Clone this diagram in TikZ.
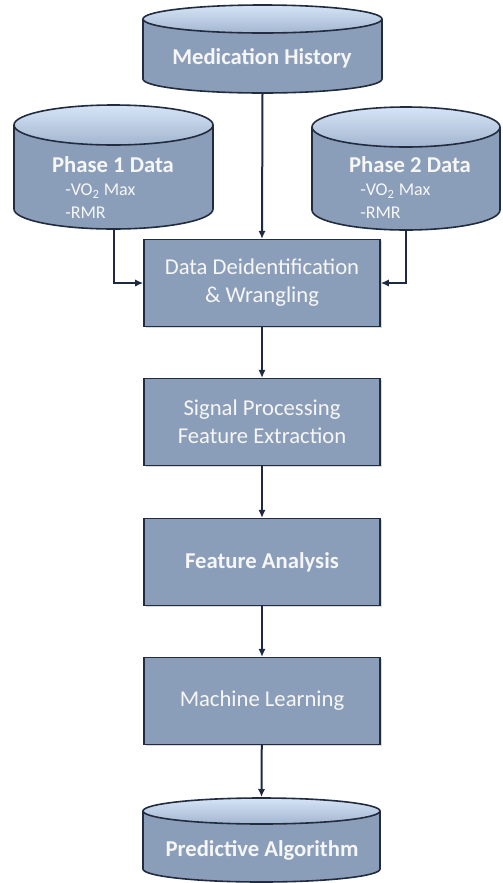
\documentclass[tikz,border=0pt]{standalone}
\usepackage{fontspec}
\setmainfont{Carlito}
\usepackage{tikz}
\usetikzlibrary{positioning,arrows.meta,calc,shadows}
\definecolor{boxblue}{RGB}{139,158,185}
\definecolor{endblue}{RGB}{163,182,208}
\definecolor{endlight}{RGB}{214,228,246}
\definecolor{edgeblue}{RGB}{34,44,62}
\definecolor{linkblue}{RGB}{30,42,66}
\definecolor{txtwhite}{RGB}{246,246,246}

\begin{document}
\begin{tikzpicture}[x=0.75pt, y=-0.75pt,
    every node/.style={font=\fontsize{17}{21}\selectfont, text=txtwhite},
    title/.style={font=\bfseries\fontsize{17}{21}\selectfont},
    small/.style={font=\fontsize{13.5}{16}\selectfont, anchor=west,
      inner xsep=0pt},
    stage/.style={draw=edgeblue, line width=1.2pt, fill=boxblue,
      minimum width=177pt, minimum height=65pt, align=center,
      drop shadow={shadow xshift=1.2pt, shadow yshift=-1.2pt, opacity=0.3}},
    % width, height, cap radius (px)
    store/.style n args={3}{inner sep=0pt, outer sep=0pt,
      minimum width={(#1+2)*0.75pt}, minimum height={(#2+2)*0.75pt},
      path picture={
        \coordinate (tc) at ($(path picture bounding box.north)+(0,1+#3)$);
        \coordinate (bc) at ($(path picture bounding box.south)+(0,-1-#3)$);
        \filldraw[fill=boxblue, draw=edgeblue, line width=1.2pt]
          ($(tc)+(-#1/2,0)$) -- ($(bc)+(-#1/2,0)$)
          arc[start angle=180, end angle=360,
            x radius={#1*0.375pt}, y radius={#3*0.75pt}]
          -- ($(tc)+(#1/2,0)$);
        \shade[top color=endlight, bottom color=endblue]
          (tc) ellipse[x radius={#1*0.375pt}, y radius={#3*0.75pt}];
        \draw[edgeblue, line width=1.2pt]
          (tc) ellipse[x radius={#1*0.375pt}, y radius={#3*0.75pt}];
      }},
    link/.style={draw=linkblue, line width=1.5pt,
      -{Latex[length=6pt,width=5.5pt]}}]
  \useasboundingbox (0,0) rectangle (503,883);
  % data sources
  \node[store={239}{88}{14}] (med) at (262.5,49) {};
  \node[title] (medtxt) at (262,58) {Medication History};
  \node[store={199}{124}{20}] (ph1) at (113.5,167) {};
  \node[title] (ph1txt) at (113,165) {Phase 1 Data};
  \node[small] (ph1vo) at (65,191) {-VO\textsubscript{2} Max};
  \node[small] (ph1rmr) at (65,213) {-RMR};
  \node[store={188}{123}{20}] (ph2) at (406,168.5) {};
  \node[title] (ph2txt) at (410,165) {Phase 2 Data};
  \node[small] (ph2vo) at (360,191) {-VO\textsubscript{2} Max};
  \node[small] (ph2rmr) at (360,213) {-RMR};
  % processing chain
  \node[stage] (deid) at (262,283) {Data Deidentification\\\& Wrangling};
  \node[stage] (sig) at (262,422) {Signal Processing\\Feature Extraction};
  \node[stage, title] (feat) at (262,562) {Feature Analysis};
  \node[stage] (ml) at (262,701) {Machine Learning};
  \node[store={237}{84}{13}] (pred) at (261.5,840) {};
  \node[title] (predtxt) at (262,850) {Predictive Algorithm};
  % connectors
  \draw[link] (med.south) -- (deid.north);
  \draw[link] (ph1.south) |- (deid.west);
  \draw[link] (ph2.south) |- (deid.east);
  \draw[link] (deid) -- (sig);
  \draw[link] (sig) -- (feat);
  \draw[link] (feat) -- (ml);
  \draw[link] (ml) -- (pred.north);
\end{tikzpicture}
\end{document}
